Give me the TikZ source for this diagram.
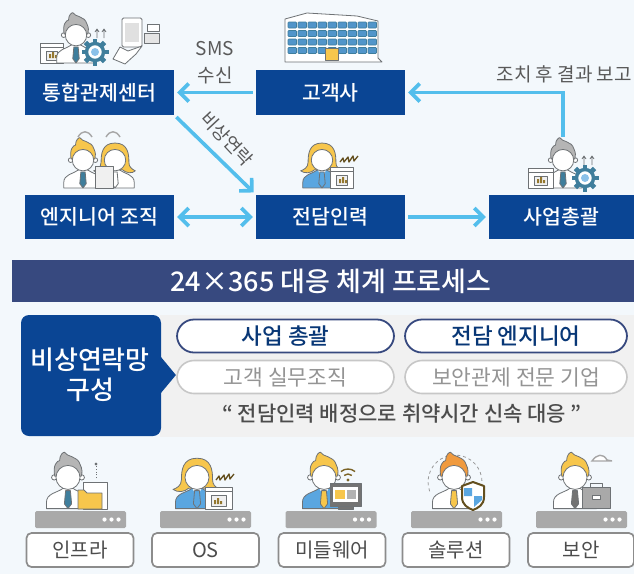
\documentclass[tikz,border=0pt]{standalone}
\usepackage{fontspec}
\setmainfont{Noto Sans CJK KR}
\newfontfamily\medf{Noto Sans CJK KR Medium}
\usetikzlibrary{arrows.meta,shapes.geometric}
\definecolor{bgc}{HTML}{F3F8FC}
\definecolor{navy}{HTML}{0A4594}
\definecolor{band}{HTML}{37497F}
\definecolor{sky}{HTML}{53BEEC}
\definecolor{ol}{HTML}{6E7275}
\definecolor{barg}{HTML}{A9A9A9}
\definecolor{yel}{HTML}{F7C64C}
\definecolor{org}{HTML}{F09A3E}
\definecolor{blu}{HTML}{5AA6E0}
\definecolor{gry}{HTML}{B5B5B5}
\definecolor{teal2}{HTML}{3F7E9C}
\definecolor{panel}{HTML}{F1F1F1}
\tikzset{
  bluebox/.style={fill=navy,text=white,font=\fontsize{20.5}{22}\selectfont\medf,minimum height=44.5pt,inner sep=0pt,anchor=center},
  flow/.style={draw=sky,line width=3.6pt,-{Straight Barb[length=9pt,width=18pt,line width=3.6pt]},shorten >=3pt,shorten <=3pt},
  flowboth/.style={draw=sky,line width=3.6pt,{Straight Barb[length=9pt,width=18pt,line width=3.6pt]}-{Straight Barb[length=9pt,width=18pt,line width=3.6pt]},shorten >=3pt,shorten <=3pt},
  lbl/.style={text=black!65,font=\fontsize{19}{22}\selectfont,inner sep=0pt},
  pillA/.style={draw=band,line width=1.8pt,fill=white,rounded corners=17pt,minimum height=33pt,inner sep=0pt,font=\fontsize{22.5}{24}\selectfont\medf,text=navy!80!black},
  pillB/.style={draw=black!22,line width=1.6pt,fill=white,rounded corners=17pt,minimum height=33pt,inner sep=0pt,font=\fontsize{21.5}{24}\selectfont,text=black!42},
  tag/.style={draw=black!45,line width=1.7pt,fill=white,rounded corners=5pt,minimum width=107pt,minimum height=34pt,inner sep=0pt,font=\fontsize{20}{22}\selectfont,text=black!70},
  ln/.style={draw=ol,line width=.8pt,line join=round},
  bar/.style={fill=barg,rounded corners=1.5pt},
}
\def\pscale{1.07}
% person: x, y (head centre), hair, body, tie
\newcommand\mybody[4]{\begin{scope}[shift={(#1,#2)},scale=\pscale]
  \draw[ln,fill=#3] (-18,28) -- (-18,23) .. controls (-18,15) and (-9,15) .. (-4,11) -- (4,11) .. controls (9,15) and (18,15) .. (18,23) -- (18,28) -- cycle;
  \fill[white] (-4,11) -- (4,11) -- (0,18) -- cycle;
  \draw[ln,fill=#4] (-2,13) -- (2,13) -- (3,24) -- (0,28) -- (-3,24) -- cycle;
  \end{scope}}
\newcommand\myman[5]{\mybody{#1}{#2}{#4}{#5}
  \begin{scope}[shift={(#1,#2)},scale=\pscale]
  \draw[ln,fill=white] (-11.5,2) circle (2.2) (11.5,2) circle (2.2);
  \draw[ln,fill=#3] (-11,1) .. controls (-13,-8) and (-9,-12) .. (-7,-12) .. controls (-7,-17) and (-4,-19) .. (-3,-19) .. controls (-1,-15) and (8,-16) .. (10,-9) .. controls (12,-5) and (12,-2) .. (11,1) -- cycle;
  \draw[ln,fill=white] (0,2) circle (10);
  \end{scope}}
\newcommand\mywoman[5]{\mybody{#1}{#2}{#4}{#5}
  \begin{scope}[shift={(#1,#2)},scale=\pscale]
  \draw[ln,fill=#3] (0,-14) .. controls (-12,-14) and (-13,-4) .. (-13,4) .. controls (-13,9) and (-17,11) .. (-20,12) .. controls (-16,15) and (-10,14) .. (-7,11) -- (7,11) .. controls (10,14) and (16,15) .. (19,12) .. controls (15,10) and (13,8) .. (13,4) .. controls (13,-4) and (12,-14) .. (0,-14) -- cycle;
  \draw[ln,fill=white] (0,2) circle (10);
  \end{scope}}
% window with small bars: x1,y1,x2,y2
\newcommand\mywin[4]{\draw[ln,fill=white] (#1,#2) rectangle (#3,#4);
  \draw[ln] (#1,#2+4) -- (#3,#2+4);
  \draw[ln,fill=black!6] (#1+6,#2+8) rectangle (#3-6,#4-3);
  \fill[yel!60!black] (#1+9,#4-5) rectangle +(2,-4) (#1+12,#4-5) rectangle +(2,-6) (#1+15,#4-5) rectangle +(2,-3);}
% gear: x,y
\newcommand\mygear[2]{\begin{scope}[shift={(#1,#2)}]
  \foreach \a in {0,45,...,315}{\fill[teal2,rotate=\a] (-2.4,-13.5) rectangle (2.4,-9);}
  \draw[teal2,line width=3.4pt,fill=white] (0,0) circle (8.5);
  \fill[blu!70] (0,0) circle (4);
  \end{scope}}
\newcommand\myzig[2]{\draw[draw=black!60!yel,line width=1.3pt,line join=round] (#1,#2) -- ++(3,-4) -- ++(1,4) -- ++(4,-5) -- ++(1,5) -- ++(4,-6) -- ++(1,5) -- ++(4,-5);}
\newcommand\myup[2]{\draw[ln] (#1,#2) -- ++(0,-9) (#1-2,#2-6) -- ++(2,-3) -- ++(2,3);}
\begin{document}
\begin{tikzpicture}[x=1pt,y=-1pt]
\useasboundingbox (0,0) rectangle (634,574);
\fill[bgc] (0,0) rectangle (634,574);
% lower grey panel
\fill[panel] (160,315) rectangle (634,437);
% main boxes
\node[bluebox,minimum width=149pt] (ctrl) at (99.5,92.5) {통합관제센터};
\node[bluebox,minimum width=149pt] (cust) at (330.5,92.5) {고객사};
\node[bluebox,minimum width=149pt] (eng) at (99.5,217) {엔지니어 조직};
\node[bluebox,minimum width=149pt] (ded) at (330.5,217) {전담인력};
\node[bluebox,minimum width=145pt] (boss) at (561.5,217) {사업총괄};
% connectors
\coordinate (bossTop) at (563,140);
\draw[flow] (cust) -- (ctrl);
\draw[flow] (ctrl.south east) -- (ded.north west);
\draw[flowboth] (eng) -- (ded);
\draw[flow] (ded) -- (boss);
\draw[flow] (bossTop) |- (cust.east);
% labels
\node[lbl] (sms) at (215,49) {SMS};
\node[lbl] (recv) at (215,75) {수신};
\node[lbl,rotate=-47,font=\fontsize{18}{20}\selectfont] (emer) at (227,139) {비상연락};
\node[lbl,anchor=east] (rep) at (632,74) {조치 후 결과 보고};
% band
\node[fill=band,text=white,font=\fontsize{27}{29}\selectfont\medf,minimum width=622pt,minimum height=42pt,inner sep=0pt] (title) at (323,281) {\hspace{16pt}24×365 대응 체계 프로세스};
% callout
\fill[navy,rounded corners=8pt] (21,315) rectangle (161,436);
\node[diamond,fill=navy,minimum width=30pt,minimum height=36pt,inner sep=0pt] (tip) at (161,375) {};
\node[text=white,font=\fontsize{26}{30}\selectfont\medf,align=center,inner sep=0pt] (net) at (90,375) {비상연락망\\구성};
% pills
\node[pillA,minimum width=217pt] (p1) at (285.5,336) {사업 총괄};
\node[pillA,minimum width=222pt] (p2) at (516,336) {전담 엔지니어};
\node[pillB,minimum width=217pt] (p3) at (285.5,377) {고객 실무조직};
\node[pillB,minimum width=222pt] (p4) at (516,377) {보안관제 전문 기업};
\node[font=\fontsize{21}{23}\selectfont\medf,text=black!70,inner sep=0pt] (quote) at (402,414) {“ 전담인력 배정으로 취약시간 신속 대응 ”};
% bottom bars and tags
\foreach \n/\x in {a/80.5,b/205.5,c/331,d/456.5,e/581.5}{
  \fill[bar] (\x-45.5,511) rectangle (\x+45.5,528);
  \foreach \d in {24,31,38}{\fill[white] (\x+\d,519.5) circle (2.1);}
}
\node[tag] (t1) at (80,550) {인프라};
\node[tag] (t2) at (205.5,550) {OS};
\node[tag] (t3) at (332,550) {미들웨어};
\node[tag] (t4) at (456,550) {솔루션};
\node[tag,minimum width=106pt] (t5) at (581,550) {보안};
% ---- top icons ----
% control centre
\mywin{40}{43}{63}{63}
\myman{76}{33}{gry}{white}{teal2}
\mygear{95}{52}
\myup{97}{38}\myup{104}{38}
\begin{scope}
  \draw[ln,fill=white,rounded corners=1.5pt] (122,18) rectangle (142,47);
  \fill[black!12] (125,23) rectangle (139,42);
  \draw[ln,fill=white] (113,59) -- (120,47) -- (128,51) -- (142,46) -- (136,54) -- (125,64) -- cycle;
  \draw[ln,fill=white] (147,24) rectangle (159,31);
  \draw[ln,fill=black!10] (144,33) rectangle (159,43);
\end{scope}
% building
\draw[ln,fill=white] (285,62) -- (285,19) -- (307,13) -- (357,16) -- (378,21) -- (378,58) -- (382,62) -- cycle;
\foreach \yy in {22,30.5,39,47.5}{\foreach \xx in {288,298,308,318,328,338,348,358,368}{
  \fill[blu!90!black,draw=teal2,line width=.6pt,rounded corners=.8pt] (\xx,\yy) rectangle +(8.5,6);}}
\draw[ln,fill=yel] (325,48) rectangle (338,60);
% engineers
\draw[draw=black!35,line width=1.4pt] (78,137) .. controls (82,130) and (88,130) .. (92,137);
\draw[draw=black!35,line width=1.4pt] (106,137) .. controls (110,130) and (116,130) .. (120,137);
\myman{83}{158}{yel}{white}{teal2}
\mywoman{115}{158}{yel}{white}{white}
\draw[ln,fill=black!6] (95,166) rectangle (113,188);
% dedicated
\mywoman{322}{158}{yel}{blu}{blu}
\mywin{330}{167}{353}{188}
\myzig{340}{162}
% boss
\myman{563}{158}{gry}{white}{teal2}
\mywin{528}{168}{553}{188}
\mygear{585}{178}
\myup{584}{165}\myup{592}{165}
% ---- bottom icons ----
\def\pscale{1.2}
% infra
\myman{68}{475}{gry}{white}{teal2}
\draw[ln,fill=white] (83,482) rectangle (107,509);
\draw[ln,fill=yel] (78,490) -- (84,490) -- (87,493) -- (102,493) -- (102,509) -- (78,509) -- cycle;
\draw[ln,dotted] (96,478) -- (96,466);
\draw[ln,fill=ol] (96,464) circle (1);
% os
\mywoman{197}{475}{yel}{blu}{blu}
\mywin{205}{487}{232}{509}
\myzig{216}{480}
% middleware
\myman{324}{475}{yel}{blu}{yel}
\draw[ln,fill=black!55] (330,483) rectangle (361,506);
\fill[white] (333,487) rectangle (358,502);
\fill[yel] (335,490) rectangle (345,499);
\fill[black!30] (347,490) rectangle (356,499);
\draw[ln,fill=black!55] (338,506) rectangle (353,509);
\draw[black!50!yel,line width=1.4pt] (348,480) ++(-130:6) arc[start angle=-130,end angle=-50,radius=6];
\draw[black!50!yel,line width=1.4pt] (348,480) ++(-130:11) arc[start angle=-130,end angle=-50,radius=11];
\fill[black!50!yel] (348,480) circle (1.6);
% solution
\draw[ln,dashed,draw=black!40] (455,482) ++(-200:27) arc[start angle=-200,end angle=20,radius=27];
\myman{454}{475}{org}{white}{yel}
\draw[ln,draw=black!60!yel,line width=2pt,fill=white] (473,482) -- (484,486) -- (484,497) .. controls (484,505) and (478,508) .. (473,510) .. controls (468,508) and (462,505) .. (462,497) -- (462,486) -- cycle;
\fill[blu] (464,488) rectangle (472,496) (474,496) -- (482,496) -- (482,500) -- (474,507) -- cycle;
% security
\myman{575}{475}{yel}{white}{black!55}
\draw[ln,fill=barg] (582,487) rectangle (610,508);
\draw[ln] (590,487) -- (590,483) -- (602,483) -- (602,487);
\draw[ln,fill=white] (592,495) rectangle (600,499);
\draw[draw=black!35,line width=1.4pt,fill=white] (592,461) .. controls (597,454) and (603,453) .. (607,460) -- (612,461) -- cycle;
\end{tikzpicture}
\end{document}
